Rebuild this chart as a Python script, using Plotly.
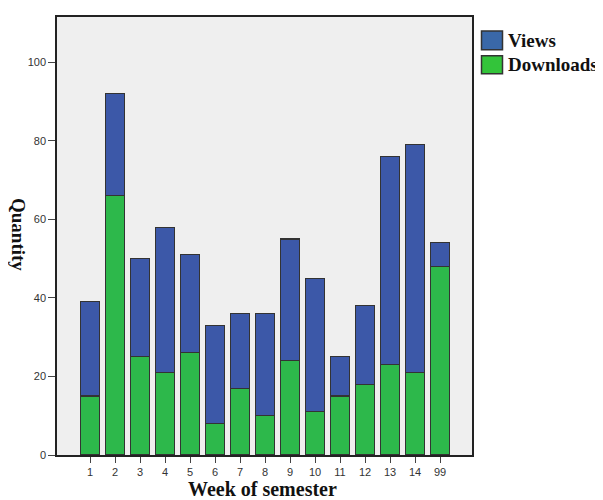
import plotly.graph_objects as go

weeks = ["1", "2", "3", "4", "5", "6", "7", "8", "9", "10", "11", "12", "13", "14", "99"]
downloads = [15, 66, 25, 21, 26, 8, 17, 10, 24, 11, 15, 18, 23, 21, 48]
views = [24, 26, 25, 37, 25, 25, 19, 26, 31, 34, 10, 20, 53, 58, 6]
y_ticks = [0, 20, 40, 60, 80, 100]

VIEW_COL = "#3C58A8"
DL_COL = "#2DB84B"
OFF = 8  # default page body margin
W, H = 603 - OFF, 500 - OFF
L, R, T, B = 57, 472, 15, 455  # plot area in page pixels

def px_x(p):
    return (p - L) / (R - L)

def px_y(p):
    return (B - p) / (B - T)

fig = go.Figure()
fig.add_trace(go.Bar(x=weeks, y=downloads, name="Downloads", marker_color=DL_COL,
                     marker_line=dict(color="#333333", width=1.2), width=0.74, showlegend=False))
fig.add_trace(go.Bar(x=weeks, y=views, name="Views", marker_color=VIEW_COL,
                     marker_line=dict(color="#333333", width=1.2), width=0.74, showlegend=False))

serif = "Liberation Serif, Times New Roman, serif"
sans = "Liberation Sans, Arial, sans-serif"

shapes = []
annotations = []
legend_items = [("Views", "#3A68A8", 29, 48), ("Downloads", "#33C43A", 54, 72)]
for label, col, y0, y1 in legend_items:
    shapes.append(dict(type="rect", xref="paper", yref="paper",
                       x0=px_x(481.5), x1=px_x(502.5), y0=px_y(y1), y1=px_y(y0),
                       fillcolor=col, line=dict(color="#333333", width=1.5)))
    annotations.append(dict(text="<b>%s</b>" % label, xref="paper", yref="paper",
                            x=px_x(506), y=px_y((y0 + y1) / 2), xanchor="left", yanchor="middle",
                            showarrow=False, font=dict(family=serif, size=19, color="#111111")))

annotations.append(dict(text="<b>Quantity</b>", xref="paper", yref="paper",
                        x=px_x(19), y=px_y(233), textangle=90, showarrow=False,
                        xanchor="center", yanchor="middle",
                        font=dict(family=serif, size=19, color="#111111")))
annotations.append(dict(text="<b>Week of semester</b>", xref="paper", yref="paper",
                        x=px_x(262), y=px_y(489), showarrow=False,
                        xanchor="center", yanchor="middle",
                        font=dict(family=serif, size=20, color="#111111")))

fig.update_layout(
    width=W, height=H,
    margin=dict(l=L - OFF, r=603 - R, t=T - OFF, b=500 - B, pad=0),
    barmode="stack",
    paper_bgcolor="white",
    plot_bgcolor="#EFEFEF",
    showlegend=False,
    shapes=shapes,
    annotations=annotations,
    xaxis=dict(type="category", range=[-1.32, 15.28], showgrid=False, zeroline=False,
               showline=True, linecolor="#222222", linewidth=1.5, mirror=True,
               ticks="outside", ticklen=6, tickwidth=1, tickcolor="#444444",
               tickfont=dict(family=sans, size=11, color="#333333")),
    yaxis=dict(range=[0, 111.5], tickvals=y_ticks, showgrid=False, zeroline=False,
               showline=True, linecolor="#222222", linewidth=1.5, mirror=True,
               ticks="outside", ticklen=7, tickwidth=1, tickcolor="#444444",
               tickfont=dict(family=sans, size=11, color="#333333")),
)

fig.write_html("out.html")
